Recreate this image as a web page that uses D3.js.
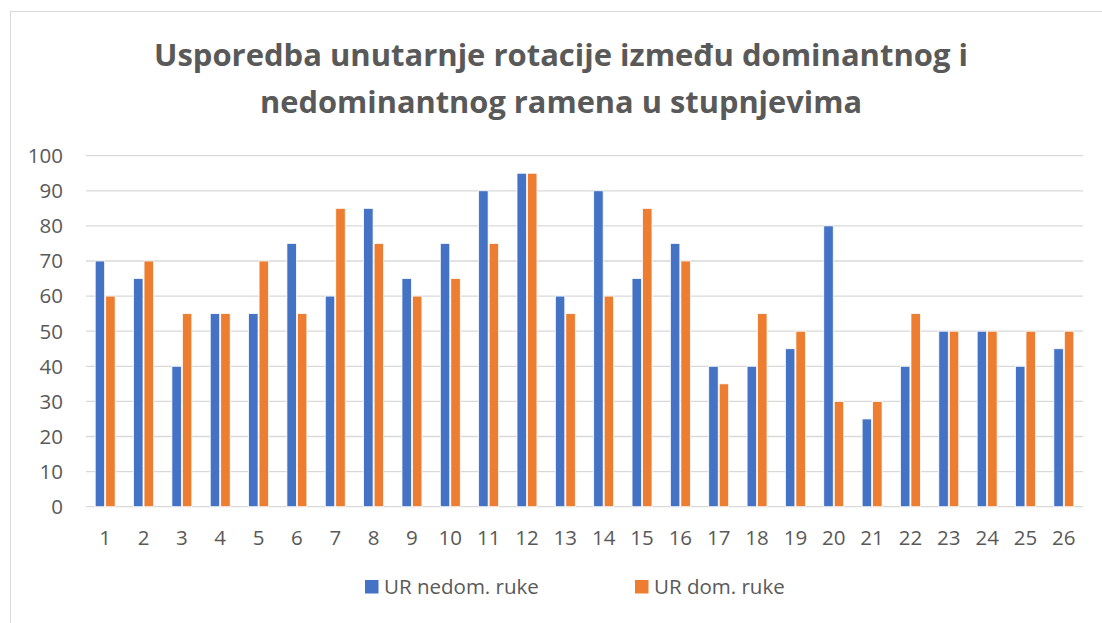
<!DOCTYPE html>
<html>
<head>
<meta charset="utf-8">
<script src="https://cdn.jsdelivr.net/npm/d3@7"></script>
<style>
html,body{margin:0;padding:0;background:#fff;}
svg{display:block;}
text{font-family:"Open Sans",sans-serif;}
</style>
</head>
<body>
<svg id="chart" width="1102" height="623"></svg>
<script>
const categories = ["1","2","3","4","5","6","7","8","9","10","11","12","13","14","15","16","17","18","19","20","21","22","23","24","25","26"];
const seriesNames = ["UR nedom. ruke","UR dom. ruke"];
const nedom = [70,65,40,55,55,75,60,85,65,75,90,95,60,90,65,75,40,40,45,80,25,40,50,50,40,45];
const dom   = [60,70,55,55,70,55,85,75,60,65,75,95,55,60,85,70,35,55,50,30,30,55,50,50,50,50];
const yTicks = [0,10,20,30,40,50,60,70,80,90,100];
const titleLines = ["Usporedba unutarnje rotacije između dominantnog i","nedominantnog ramena u stupnjevima"];
const colors = ["#4472C4","#ED7D31"];

const svg = d3.select("#chart");
// chart border
svg.append("rect").attr("x",10.5).attr("y",11.5).attr("width",1120).attr("height",640)
  .attr("fill","none").attr("stroke","#d9d9d9").attr("stroke-width",1);

const pLeft = 86, pRight = 1083, pTop = 155.7, pBottom = 506.7;
const x0 = d3.scaleBand().domain(categories).range([pLeft,pRight]).paddingInner(0.48).paddingOuter(0.24);
const x1 = d3.scaleBand().domain([0,1]).range([0,x0.bandwidth()]).paddingInner(0.1);
const y = d3.scaleLinear().domain([0,100]).range([pBottom,pTop]);

// gridlines
svg.append("g").selectAll("line").data(yTicks).join("line")
  .attr("x1",pLeft).attr("x2",pRight)
  .attr("y1",d=>y(d)).attr("y2",d=>y(d))
  .attr("stroke","#d9d9d9").attr("stroke-width",1.3);

// y labels
svg.append("g").selectAll("text").data(yTicks).join("text")
  .attr("x",63).attr("y",d=>y(d)).attr("dy","0.36em")
  .attr("text-anchor","end").attr("font-size",20.5).attr("fill","#595959")
  .text(d=>d);

// bars
const data = [nedom, dom];
const g = svg.append("g");
categories.forEach((c,i)=>{
  data.forEach((s,k)=>{
    g.append("rect")
      .attr("x",x0(c)+x1(k)).attr("width",x1.bandwidth())
      .attr("y",y(s[i])).attr("height",y(0)-y(s[i]))
      .attr("fill",colors[k]).attr("stroke","#fff").attr("stroke-width",0.75);
  });
});

// x labels
svg.append("g").selectAll("text").data(categories).join("text")
  .attr("x",d=>x0(d)+x0.bandwidth()/2).attr("y",545)
  .attr("text-anchor","middle").attr("font-size",20.5).attr("fill","#595959")
  .text(d=>d);

// title
const tw = [814, 602];
titleLines.forEach((t,i)=>{
  svg.append("text").attr("x",561).attr("y",[66,113][i])
    .attr("text-anchor","middle").attr("font-size",30).attr("font-weight","bold")
    .attr("fill","#595959")
    .attr("textLength",tw[i]).attr("lengthAdjust","spacingAndGlyphs")
    .text(t);
});

// legend
const legX = [365, 635];
seriesNames.forEach((n,k)=>{
  svg.append("rect").attr("x",legX[k]).attr("y",580).attr("width",13.5).attr("height",13.5).attr("fill",colors[k]);
  svg.append("text").attr("x",legX[k]+19).attr("y",594).attr("font-size",20.5).attr("fill","#595959").text(n);
});
</script>
</body>
</html>
